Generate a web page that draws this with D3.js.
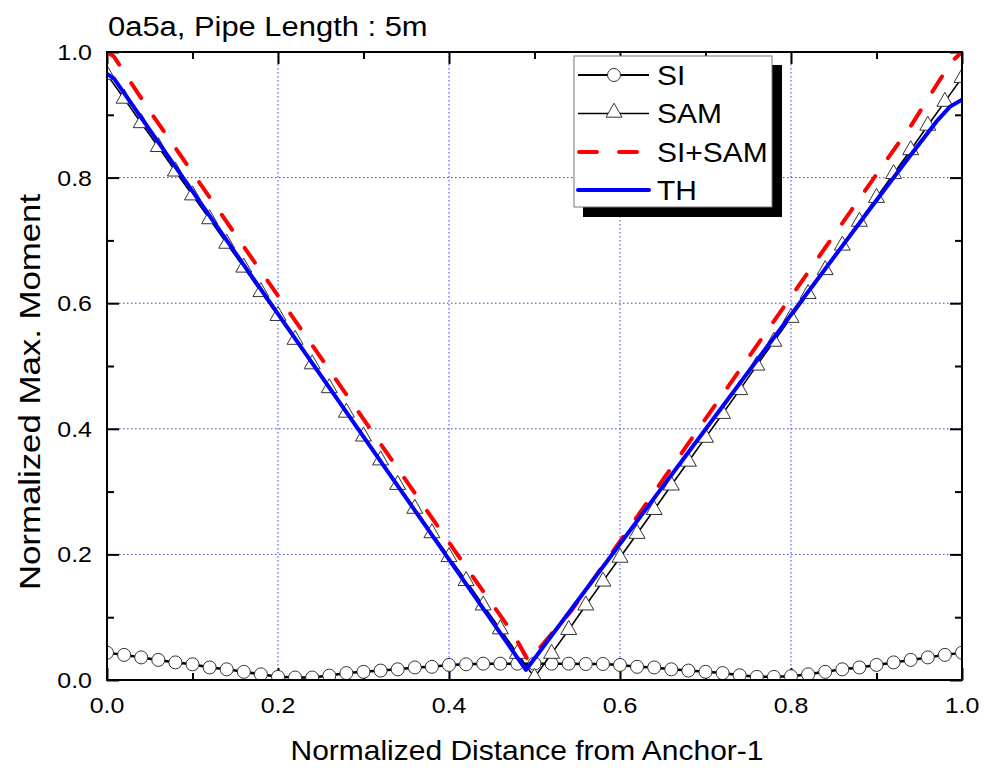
<!DOCTYPE html>
<html lang="en">
<head>
<meta charset="UTF-8">
<title>Normalized Max. Moment</title>
<script src="https://d3js.org/d3.v7.min.js"></script>
<style>
  body { margin: 0; background: #fff; }
  text { font-family: "Liberation Sans", Arial, sans-serif; fill: #000; }
</style>
</head>
<body>
<svg id="chart" width="984" height="770"></svg>
<script>
  // positions along the pipe (SI and SAM share them)
  var xPos = [0, 0.02, 0.04, 0.06, 0.08, 0.10, 0.12, 0.14, 0.16, 0.18,
    0.20, 0.22, 0.24, 0.26, 0.28, 0.30, 0.32, 0.34, 0.36, 0.38,
    0.40, 0.42, 0.44, 0.46, 0.48, 0.50, 0.52, 0.54, 0.56, 0.58,
    0.60, 0.62, 0.64, 0.66, 0.68, 0.70, 0.72, 0.74, 0.76, 0.78,
    0.80, 0.82, 0.84, 0.86, 0.88, 0.90, 0.92, 0.94, 0.96, 0.98, 1.0];

  var siVals = [0.0435, 0.040, 0.036, 0.032, 0.028, 0.025, 0.020, 0.017, 0.013, 0.009,
    0.005, 0.004, 0.004, 0.007, 0.011, 0.013, 0.015, 0.017, 0.020, 0.021,
    0.024, 0.025, 0.026, 0.026, 0.026, 0.026, 0.026, 0.026, 0.0255, 0.0255,
    0.024, 0.021, 0.020, 0.017, 0.015, 0.013, 0.011, 0.0075, 0.005, 0.005,
    0.006, 0.009, 0.013, 0.017, 0.020, 0.024, 0.028, 0.032, 0.036, 0.040, 0.0435];

  var samVals = [0.964, 0.926, 0.887, 0.849, 0.810, 0.772, 0.734, 0.695, 0.657, 0.618,
    0.580, 0.542, 0.503, 0.465, 0.426, 0.388, 0.350, 0.311, 0.273, 0.234,
    0.196, 0.158, 0.119, 0.081, 0.042, 0.004, 0.042, 0.080, 0.119, 0.157,
    0.195, 0.233, 0.271, 0.310, 0.348, 0.386, 0.424, 0.462, 0.501, 0.539,
    0.577, 0.615, 0.653, 0.692, 0.730, 0.768, 0.806, 0.844, 0.883, 0.921, 0.959];

  var sumX = [0, 0.008, 0.017, 0.048, 0.4265, 0.475, 0.493, 0.5435, 0.902, 0.941, 0.970, 0.988, 1.0];
  var sumVals = [1.0, 0.993, 0.974, 0.910, 0.167, 0.074, 0.030, 0.111, 0.809, 0.884, 0.947, 0.985, 1.0];

  var thX = [0, 0.008, 0.49, 0.90, 0.94, 0.97, 0.986, 1.0];
  var thVals = [0.965, 0.958, 0.016, 0.764, 0.836, 0.889, 0.913, 0.924];

  var majorTicks = [0, 0.2, 0.4, 0.6, 0.8, 1.0];
  var minorTicks = [0.1, 0.3, 0.5, 0.7, 0.9];
  var gridTicks = [0.2, 0.4, 0.6, 0.8];
  var seriesNames = ["SI", "SAM", "SI+SAM", "TH"];

  var svg = d3.select("#chart");
  var pLeft = 107, pRight = 962, pTop = 52, pBottom = 680;

  var x = d3.scaleLinear().domain([0, 1]).range([pLeft, pRight]);
  var y = d3.scaleLinear().domain([0, 1]).range([pBottom, pTop]);

  // text is a bit wide in the original
  function stretchText(g, tx, ty, str, size, anchor, rot, sx) {
    return g.append("text")
      .attr("transform", "translate(" + tx + "," + ty + ")" + (rot ? " rotate(" + rot + ")" : "") + " scale(" + (sx || 1.11) + ",1)")
      .attr("text-anchor", anchor)
      .style("font-size", size + "px")
      .text(str);
  }

  svg.append("clipPath").attr("id", "plotclip")
    .append("rect").attr("x", pLeft).attr("y", pTop).attr("width", pRight - pLeft).attr("height", pBottom - pTop);

  // dotted grid
  var grid = svg.append("g");
  grid.selectAll(".gx").data(gridTicks).enter().append("line")
    .attr("x1", function (d) { return x(d) }).attr("x2", function (d) { return x(d) })
    .attr("y1", pTop).attr("y2", pBottom);
  grid.selectAll(".gy").data(gridTicks).enter().append("line")
    .attr("x1", pLeft).attr("x2", pRight)
    .attr("y1", function (d) { return y(d) }).attr("y2", function (d) { return y(d) });
  grid.selectAll("line")
    .attr("stroke", "#3a3aff").attr("stroke-width", 1).attr("stroke-dasharray", "1.5,2.5");

  // ticks on all four sides, pointing in
  function ticks(axis, tr) {
    var g = svg.append("g").attr("transform", tr).call(axis);
    g.select(".domain").remove();
    g.selectAll("line").attr("stroke", "#000").attr("stroke-width", 2);
    g.selectAll("text").remove();
  }
  [[majorTicks, 12], [minorTicks, 7]].forEach(function (t) {
    ticks(d3.axisBottom(x).tickValues(t[0]).tickSize(-t[1]), "translate(0," + pBottom + ")");
    ticks(d3.axisTop(x).tickValues(t[0]).tickSize(-t[1]), "translate(0," + pTop + ")");
    ticks(d3.axisLeft(y).tickValues(t[0]).tickSize(-t[1]), "translate(" + pLeft + ",0)");
    ticks(d3.axisRight(y).tickValues(t[0]).tickSize(-t[1]), "translate(" + pRight + ",0)");
  });

  var fmt = d3.format(".1f");
  var labels = svg.append("g");
  majorTicks.forEach(function (d) {
    stretchText(labels, x(d), 713, fmt(d), 22.5, "middle");
    stretchText(labels, 92, y(d) + 8, fmt(d), 22.5, "end");
  });

  // series
  var plot = svg.append("g").attr("clip-path", "url(#plotclip)");
  var line = d3.line().x(function (d) { return x(d[0]) }).y(function (d) { return y(d[1]) });

  var siData = xPos.map(function (v, i) { return [v, siVals[i]] });
  var samData = xPos.map(function (v, i) { return [v, samVals[i]] });
  var sumData = sumX.map(function (v, i) { return [v, sumVals[i]] });
  var thData = thX.map(function (v, i) { return [v, thVals[i]] });

  var triPath = "M0,-9.3L8,4.7L-8,4.7Z";

  plot.append("path").datum(siData).attr("d", line)
    .attr("fill", "none").attr("stroke", "#000").attr("stroke-width", 2.5);
  plot.selectAll(".si").data(siData).enter().append("circle")
    .attr("cx", function (d) { return x(d[0]) })
    .attr("cy", function (d) { return y(d[1]) })
    .attr("r", 6.5)
    .attr("fill", "#fff").attr("stroke", "#333").attr("stroke-width", 1);

  plot.append("path").datum(samData).attr("d", line)
    .attr("fill", "none").attr("stroke", "#000").attr("stroke-width", 1.6);
  plot.selectAll(".sam").data(samData).enter().append("path")
    .attr("transform", function (d) { return "translate(" + x(d[0]) + "," + y(d[1]) + ")" })
    .attr("d", triPath)
    .attr("fill", "#fff").attr("stroke", "#333").attr("stroke-width", 1);

  plot.append("path").datum(sumData).attr("d", line)
    .attr("fill", "none").attr("stroke", "#ff0000").attr("stroke-width", 4)
    .attr("stroke-linecap", "round").attr("stroke-dasharray", "18,22");

  plot.append("path").datum(thData).attr("d", line)
    .attr("fill", "none").attr("stroke", "#0000ff").attr("stroke-width", 4)
    .attr("stroke-linejoin", "round");

  // frame
  svg.append("rect").attr("x", pLeft).attr("y", pTop).attr("width", pRight - pLeft).attr("height", pBottom - pTop)
    .attr("fill", "none").attr("stroke", "#000").attr("stroke-width", 2);

  // titles
  stretchText(svg, 108, 36, "0a5a, Pipe Length : 5m", 27, "start", 0, 1.145);
  stretchText(svg, 527, 760, "Normalized Distance from Anchor-1", 27, "middle");
  stretchText(svg, 40, 392, "Normalized Max. Moment", 30, "middle", -90, 1.16);

  // legend
  var lg = svg.append("g");
  lg.append("rect").attr("x", 583).attr("y", 65).attr("width", 199).attr("height", 152).attr("fill", "#000");
  lg.append("rect").attr("x", 574).attr("y", 56).attr("width", 198).attr("height", 151)
    .attr("fill", "#fff").attr("stroke", "#777").attr("stroke-width", 1);

  var rowY = [75, 113.5, 152, 190];
  seriesNames.forEach(function (name, i) {
    var ly = rowY[i];
    var l = lg.append("line").attr("x1", 578).attr("x2", 649).attr("y1", ly).attr("y2", ly);
    if (i === 0) {
      l.attr("stroke", "#000").attr("stroke-width", 2);
    } else if (i === 1) {
      l.attr("stroke", "#000").attr("stroke-width", 1.6);
    } else if (i === 2) {
      l.attr("x1", 579).attr("x2", 647).attr("stroke", "#ff0000").attr("stroke-width", 4)
        .attr("stroke-linecap", "round").attr("stroke-dasharray", "18,22");
    } else {
      l.attr("stroke", "#0000ff").attr("stroke-width", 4).attr("stroke-linecap", "round");
    }
    if (i === 0) {
      lg.append("circle").attr("cx", 614).attr("cy", ly).attr("r", 6.5)
        .attr("fill", "#fff").attr("stroke", "#333").attr("stroke-width", 1);
    }
    if (i === 1) {
      lg.append("path").attr("transform", "translate(614," + (ly - 1) + ")").attr("d", triPath)
        .attr("fill", "#fff").attr("stroke", "#333").attr("stroke-width", 1);
    }
    stretchText(lg, 657, ly + 9.5, name, 27, "start");
  });
</script>
</body>
</html>
